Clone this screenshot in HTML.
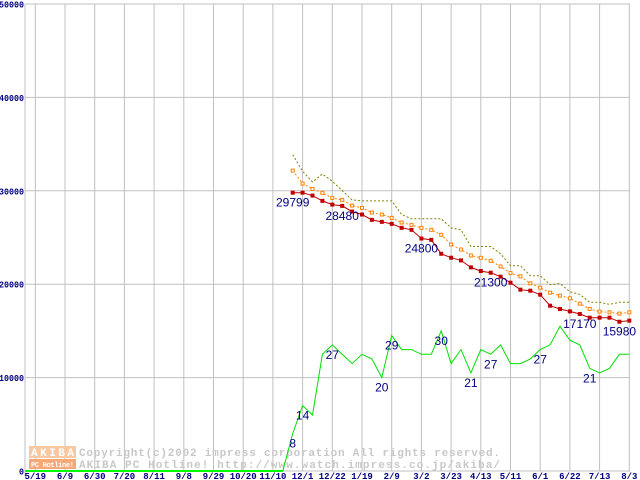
<!DOCTYPE html>
<html><head><meta charset="utf-8"><style>
html,body{margin:0;padding:0;background:#fff;}
svg{display:block;}
</style></head><body>
<svg id="chart" width="640" height="480" xmlns="http://www.w3.org/2000/svg" font-family="Liberation Mono, DejaVu Sans Mono, monospace">
<g id="grid"></g>
<g id="watermark">
  <rect x="29" y="446" width="47" height="12" fill="#f9c8a0"/>
  <text x="31" y="456" font-size="11" font-weight="bold" fill="#fff" textLength="43">AKIBA</text>
  <rect x="29" y="459" width="47" height="10" fill="#f5a878"/>
  <text x="31" y="467" font-size="7" font-weight="bold" fill="#fff" textLength="43">PC Hotline!</text>
  <text x="79" y="456" font-size="11" font-weight="bold" fill="#c8c8c8" textLength="421">Copyright(c)2002 impress corporation All rights reserved.</text>
  <text x="79" y="468" font-size="11" font-weight="bold" fill="#c8c8c8" textLength="421">AKIBA PC Hotline!  http://www.watch.impress.co.jp/akiba/</text>
</g>
<g id="series"></g>
<g id="labels"></g>
</svg>
<script>
const xTickLabels = ["5/19","6/9","6/30","7/20","8/11","9/8","9/29","10/20","11/10","12/1","12/22","1/19","2/9","3/2","3/23","4/13","5/11","6/1","6/22","7/13","8/3"];
const yTicks = [0,10000,20000,30000,40000,50000];
const priceStartWeek = 26;
const minPrice = [29799,29799,29488,28920,28526,28385,27778,27458,26889,26675,26461,26034,25820,24890,24747,23259,22832,22547,21799,21407,21229,20802,20161,19413,19306,18879,17697,17341,17092,16808,16416,16416,16416,15980,16100];
const avgPrice = [32160,30770,30203,29776,29242,29028,28420,28171,27672,27458,27102,26603,26354,26034,25820,25286,24249,23715,23074,22825,22505,21897,21194,20838,20090,19627,19093,18772,18487,17918,17347,17063,16990,16848,16990];
const maxPrice = [33870,32085,30950,31800,31020,30020,29030,28920,28920,28920,28920,27460,27000,27000,27000,27000,26030,25820,24040,24040,24040,23260,21980,21980,20910,20910,19950,20060,19200,18910,18060,18060,17840,18060,18060];
const shopCountStartWeek = 25;
const shopCount = [0,8,14,12,25,27,25,23,25,24,20,29,26,26,25,25,30,23,26,21,26,25,27,23,23,24,26,27,31,28,27,22,21,22,25,25];
const priceLabels = [[0,"29799"],[5,"28480"],[13,"24800"],[20,"21300"],[29,"17170"],[33,"15980"]];
const countLabels = [[1,"8"],[2,"14"],[5,"27"],[10,"20"],[11,"29"],[16,"30"],[19,"21"],[21,"27"],[26,"27"],[31,"21"]];

const NS="http://www.w3.org/2000/svg";
const X0=35.3, TICKW=29.7, LEFT=25, RIGHT=630, TOP=4, BOT=471;
function xw(w){return X0 + w*TICKW/3;}
function yv(v){return BOT - (v/50000)*(BOT-TOP);}
function yc(c){return yv(c*500);}
function mk(tag,attrs,parent){const e=document.createElementNS(NS,tag);for(const k in attrs)e.setAttribute(k,attrs[k]);parent.appendChild(e);return e;}
const grid=document.getElementById('grid'), ser=document.getElementById('series'), lab=document.getElementById('labels');

yTicks.forEach(v=>{
  const l=mk('line',{x1:LEFT,x2:RIGHT,y1:yv(v),y2:yv(v),stroke:'#c0c0c0','stroke-width':1},grid);
  
  
  const s=String(v);
  const t=mk('text',{x:LEFT-1,y:yv(v)+3.5,'text-anchor':'end','font-size':9,'font-weight':'bold',fill:'#000080',textLength:s.length*5,lengthAdjust:'spacingAndGlyphs'},grid);
  
  
  t.textContent=s;
});
const ax=mk('line',{x1:LEFT,x2:LEFT,y1:TOP,y2:BOT+5,stroke:'#c0c0c0','stroke-width':1},grid);


xTickLabels.forEach((s,i)=>{
  const x=xw(i*3);
  const l=mk('line',{x1:x,x2:x,y1:TOP,y2:BOT,stroke:'#c0c0c0','stroke-width':1},grid);
  
  
  const t=mk('text',{x:x,y:479,'text-anchor':'middle','font-size':9,'font-weight':'bold',fill:'#000080'},grid);
  
  
  t.textContent=s;
});

function pts(arr,start,f){return arr.map((v,i)=>xw(start+i).toFixed(1)+','+f(v).toFixed(1)).join(' ');}
const zero=mk('line',{x1:LEFT,x2:xw(shopCountStartWeek),y1:yc(0),y2:yc(0),stroke:'#00ff00','stroke-width':2},ser);


const g=mk('polyline',{points:pts(shopCount,shopCountStartWeek,yc),fill:'none',stroke:'#00e000','stroke-width':1},ser);


const mx=mk('polyline',{points:pts(maxPrice,priceStartWeek,yv),fill:'none',stroke:'#808000','stroke-width':1,'stroke-dasharray':'2,2'},ser);


const av=mk('polyline',{points:pts(avgPrice,priceStartWeek,yv),fill:'none',stroke:'#ff8000','stroke-width':1,'stroke-dasharray':'2,2'},ser);


avgPrice.forEach((v,i)=>{
  const r=mk('rect',{x:xw(priceStartWeek+i)-1.5,y:yv(v)-1.5,width:3,height:3,fill:'#fff',stroke:'#ff8000','stroke-width':1},ser);
  
  
});
const mn=mk('polyline',{points:pts(minPrice,priceStartWeek,yv),fill:'none',stroke:'#c00000','stroke-width':1},ser);


minPrice.forEach((v,i)=>{
  const r=mk('rect',{x:xw(priceStartWeek+i)-2,y:yv(v)-2,width:4,height:4,fill:'#c00000'},ser);
  
  
});
priceLabels.forEach(([i,s])=>{
  const t=mk('text',{x:xw(priceStartWeek+i),y:yv(minPrice[i])+14,'text-anchor':'middle','font-size':12,fill:'#000080','font-family':'Liberation Sans, sans-serif'},lab);
  
  
  t.textContent=s;
});
countLabels.forEach(([i,s])=>{
  const t=mk('text',{x:xw(shopCountStartWeek+i),y:yc(shopCount[i])+14,'text-anchor':'middle','font-size':12,fill:'#000080','font-family':'Liberation Sans, sans-serif'},lab);
  
  
  t.textContent=s;
});
</script>
</body></html>
